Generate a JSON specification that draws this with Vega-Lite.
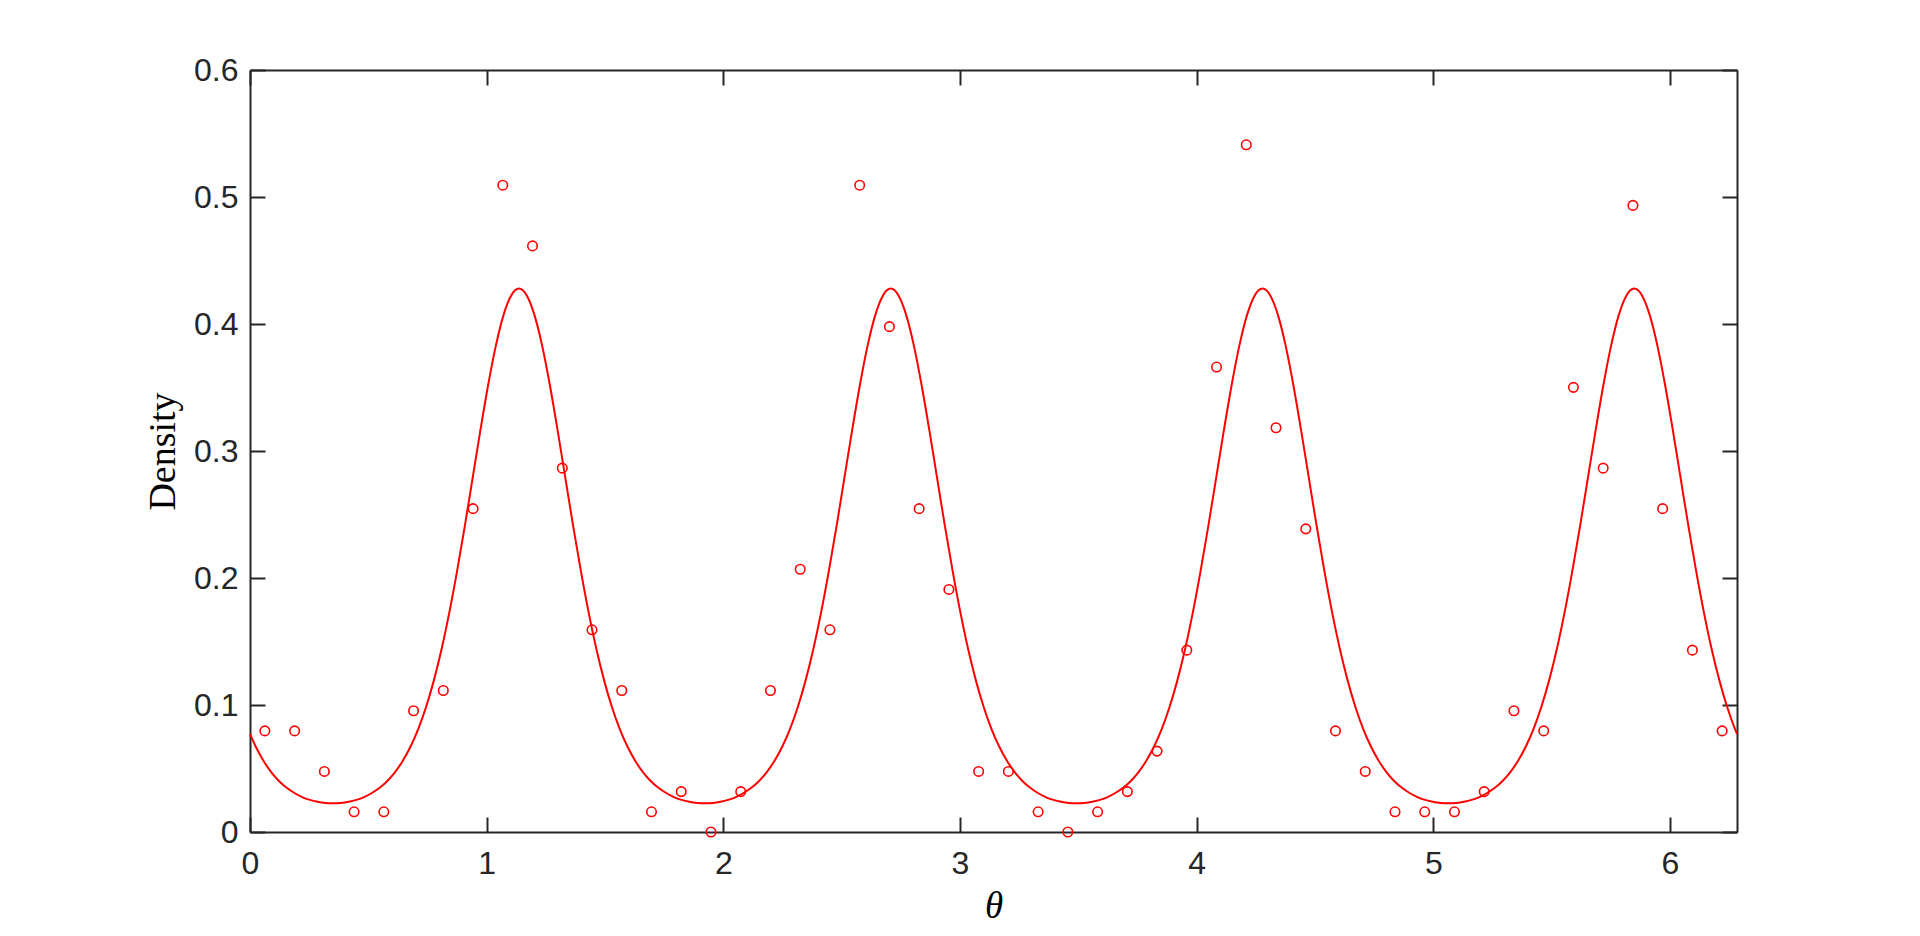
{
"$schema": "https://vega.github.io/schema/vega-lite/v6.json",
"width": 1487, "height": 762,
"autosize": {"type": "none"},
"padding": {"left": 250, "top": 70, "right": 183, "bottom": 104},
"background": "white",
"config": {
 "view": {"stroke": null},
 "axis": {"grid": false, "domainColor": "#262626", "domainWidth": 2, "tickColor": "#262626", "tickWidth": 2, "tickSize": -15, "labelFlush": false,
  "labelColor": "#262626", "labelFont": "Liberation Sans", "labelFontSize": 32, "titleFont": "Liberation Serif", "titleFontWeight": "normal", "titleColor": "#000000"}
},
"datasets": {
"curve": [
{"t":0,"d":0.0772},
{"t":0.0240,"d":0.0673},{"t":0.0567,"d":0.0561},{"t":0.0894,"d":0.0472},{"t":0.1221,"d":0.0402},{"t":0.1549,"d":0.0348},{"t":0.1876,"d":0.0307},{"t":0.2203,"d":0.0275},{"t":0.2530,"d":0.0253},{"t":0.2858,"d":0.0238},{"t":0.3185,"d":0.0229},{"t":0.3512,"d":0.0226},{"t":0.3839,"d":0.0229},{"t":0.4167,"d":0.0238},{"t":0.4494,"d":0.0253},{"t":0.4821,"d":0.0275},{"t":0.5148,"d":0.0307},{"t":0.5476,"d":0.0348},{"t":0.5803,"d":0.0402},{"t":0.6130,"d":0.0472},{"t":0.6457,"d":0.0561},{"t":0.6785,"d":0.0673},{"t":0.7112,"d":0.0812},{"t":0.7439,"d":0.0984},{"t":0.7766,"d":0.1192},{"t":0.8094,"d":0.1439},{"t":0.8421,"d":0.1727},{"t":0.8748,"d":0.2052},{"t":0.9075,"d":0.2407},{"t":0.9403,"d":0.2782},{"t":0.9730,"d":0.3158},{"t":1.0057,"d":0.3514},{"t":1.0384,"d":0.3826},{"t":1.0712,"d":0.4070},{"t":1.1039,"d":0.4225},{"t":1.1366,"d":0.4279},{"t":1.1693,"d":0.4225},{"t":1.2021,"d":0.4070},{"t":1.2348,"d":0.3826},{"t":1.2675,"d":0.3514},{"t":1.3002,"d":0.3158},{"t":1.3329,"d":0.2782},{"t":1.3657,"d":0.2407},{"t":1.3984,"d":0.2052},{"t":1.4311,"d":0.1727},{"t":1.4638,"d":0.1439},{"t":1.4966,"d":0.1192},{"t":1.5293,"d":0.0984},{"t":1.5620,"d":0.0812},
{"t":1.5948,"d":0.0673},{"t":1.6275,"d":0.0561},{"t":1.6602,"d":0.0472},{"t":1.6929,"d":0.0402},{"t":1.7257,"d":0.0348},{"t":1.7584,"d":0.0307},{"t":1.7911,"d":0.0275},{"t":1.8238,"d":0.0253},{"t":1.8566,"d":0.0238},{"t":1.8893,"d":0.0229},{"t":1.9220,"d":0.0226},{"t":1.9547,"d":0.0229},{"t":1.9875,"d":0.0238},{"t":2.0202,"d":0.0253},{"t":2.0529,"d":0.0275},{"t":2.0856,"d":0.0307},{"t":2.1184,"d":0.0348},{"t":2.1511,"d":0.0402},{"t":2.1838,"d":0.0472},{"t":2.2165,"d":0.0561},{"t":2.2493,"d":0.0673},{"t":2.2820,"d":0.0812},{"t":2.3147,"d":0.0984},{"t":2.3474,"d":0.1192},{"t":2.3802,"d":0.1439},{"t":2.4129,"d":0.1727},{"t":2.4456,"d":0.2052},{"t":2.4783,"d":0.2407},{"t":2.5111,"d":0.2782},{"t":2.5438,"d":0.3158},{"t":2.5765,"d":0.3514},{"t":2.6092,"d":0.3826},{"t":2.6420,"d":0.4070},{"t":2.6747,"d":0.4225},{"t":2.7074,"d":0.4279},{"t":2.7401,"d":0.4225},{"t":2.7729,"d":0.4070},{"t":2.8056,"d":0.3826},{"t":2.8383,"d":0.3514},{"t":2.8710,"d":0.3158},{"t":2.9037,"d":0.2782},{"t":2.9365,"d":0.2407},{"t":2.9692,"d":0.2052},{"t":3.0019,"d":0.1727},{"t":3.0346,"d":0.1439},{"t":3.0674,"d":0.1192},{"t":3.1001,"d":0.0984},{"t":3.1328,"d":0.0812},
{"t":3.1656,"d":0.0673},{"t":3.1983,"d":0.0561},{"t":3.2310,"d":0.0472},{"t":3.2637,"d":0.0402},{"t":3.2965,"d":0.0348},{"t":3.3292,"d":0.0307},{"t":3.3619,"d":0.0275},{"t":3.3946,"d":0.0253},{"t":3.4274,"d":0.0238},{"t":3.4601,"d":0.0229},{"t":3.4928,"d":0.0226},{"t":3.5255,"d":0.0229},{"t":3.5583,"d":0.0238},{"t":3.5910,"d":0.0253},{"t":3.6237,"d":0.0275},{"t":3.6564,"d":0.0307},{"t":3.6892,"d":0.0348},{"t":3.7219,"d":0.0402},{"t":3.7546,"d":0.0472},{"t":3.7873,"d":0.0561},{"t":3.8201,"d":0.0673},{"t":3.8528,"d":0.0812},{"t":3.8855,"d":0.0984},{"t":3.9182,"d":0.1192},{"t":3.9510,"d":0.1439},{"t":3.9837,"d":0.1727},{"t":4.0164,"d":0.2052},{"t":4.0491,"d":0.2407},{"t":4.0819,"d":0.2782},{"t":4.1146,"d":0.3158},{"t":4.1473,"d":0.3514},{"t":4.1800,"d":0.3826},{"t":4.2128,"d":0.4070},{"t":4.2455,"d":0.4225},{"t":4.2782,"d":0.4279},{"t":4.3109,"d":0.4225},{"t":4.3437,"d":0.4070},{"t":4.3764,"d":0.3826},{"t":4.4091,"d":0.3514},{"t":4.4418,"d":0.3158},{"t":4.4745,"d":0.2782},{"t":4.5073,"d":0.2407},{"t":4.5400,"d":0.2052},{"t":4.5727,"d":0.1727},{"t":4.6054,"d":0.1439},{"t":4.6382,"d":0.1192},{"t":4.6709,"d":0.0984},{"t":4.7036,"d":0.0812},
{"t":4.7364,"d":0.0673},{"t":4.7691,"d":0.0561},{"t":4.8018,"d":0.0472},{"t":4.8345,"d":0.0402},{"t":4.8673,"d":0.0348},{"t":4.9000,"d":0.0307},{"t":4.9327,"d":0.0275},{"t":4.9654,"d":0.0253},{"t":4.9982,"d":0.0238},{"t":5.0309,"d":0.0229},{"t":5.0636,"d":0.0226},{"t":5.0963,"d":0.0229},{"t":5.1291,"d":0.0238},{"t":5.1618,"d":0.0253},{"t":5.1945,"d":0.0275},{"t":5.2272,"d":0.0307},{"t":5.2600,"d":0.0348},{"t":5.2927,"d":0.0402},{"t":5.3254,"d":0.0472},{"t":5.3581,"d":0.0561},{"t":5.3909,"d":0.0673},{"t":5.4236,"d":0.0812},{"t":5.4563,"d":0.0984},{"t":5.4890,"d":0.1192},{"t":5.5218,"d":0.1439},{"t":5.5545,"d":0.1727},{"t":5.5872,"d":0.2052},{"t":5.6199,"d":0.2407},{"t":5.6527,"d":0.2782},{"t":5.6854,"d":0.3158},{"t":5.7181,"d":0.3514},{"t":5.7508,"d":0.3826},{"t":5.7836,"d":0.4070},{"t":5.8163,"d":0.4225},{"t":5.8490,"d":0.4279},{"t":5.8817,"d":0.4225},{"t":5.9145,"d":0.4070},{"t":5.9472,"d":0.3826},{"t":5.9799,"d":0.3514},{"t":6.0126,"d":0.3158},{"t":6.0453,"d":0.2782},{"t":6.0781,"d":0.2407},{"t":6.1108,"d":0.2052},{"t":6.1435,"d":0.1727},{"t":6.1762,"d":0.1439},{"t":6.2090,"d":0.1192},{"t":6.2417,"d":0.0984},{"t":6.2744,"d":0.0812},
{"t":6.283185,"d":0.0772}
],
"pts": [
{"t":0.0628,"d":0.0796},{"t":0.1885,"d":0.0796},{"t":0.3142,"d":0.0477},{"t":0.4398,"d":0.0159},{"t":0.5655,"d":0.0159},{"t":0.6912,"d":0.0955},{"t":0.8168,"d":0.1114},{"t":0.9425,"d":0.2546},{"t":1.0681,"d":0.5093},{"t":1.1938,"d":0.4615},
{"t":1.3195,"d":0.2865},{"t":1.4451,"d":0.1592},{"t":1.5708,"d":0.1114},{"t":1.6965,"d":0.0159},{"t":1.8221,"d":0.0318},{"t":1.9478,"d":0},{"t":2.0735,"d":0.0318},{"t":2.1991,"d":0.1114},{"t":2.3248,"d":0.2069},{"t":2.4504,"d":0.1592},
{"t":2.5761,"d":0.5093},{"t":2.7018,"d":0.3979},{"t":2.8274,"d":0.2546},{"t":2.9531,"d":0.1910},{"t":3.0788,"d":0.0477},{"t":3.2044,"d":0.0477},{"t":3.3301,"d":0.0159},{"t":3.4558,"d":0},{"t":3.5814,"d":0.0159},{"t":3.7071,"d":0.0318},
{"t":3.8327,"d":0.0637},{"t":3.9584,"d":0.1432},{"t":4.0841,"d":0.3661},{"t":4.2097,"d":0.5411},{"t":4.3354,"d":0.3183},{"t":4.4611,"d":0.2387},{"t":4.5867,"d":0.0796},{"t":4.7124,"d":0.0477},{"t":4.8381,"d":0.0159},{"t":4.9637,"d":0.0159},
{"t":5.0894,"d":0.0159},{"t":5.2150,"d":0.0318},{"t":5.3407,"d":0.0955},{"t":5.4664,"d":0.0796},{"t":5.5920,"d":0.3501},{"t":5.7177,"d":0.2865},{"t":5.8434,"d":0.4934},{"t":5.9690,"d":0.2546},{"t":6.0947,"d":0.1432},{"t":6.2204,"d":0.0796}
]
},
"layer": [
 {"data": {"name": "curve"},
  "mark": {"type": "line", "color": "#FF0000", "strokeWidth": 2, "interpolate": "monotone"},
  "encoding": {
   "x": {"field": "t", "type": "quantitative", "scale": {"domain": [0, 6.283185], "nice": false, "zero": false},
    "axis": {"orient": "bottom", "values": [0,1,2,3,4,5,6], "format": "d", "tickSize": -15, "labelFlush": false, "labelPadding": 31,
     "title": "θ", "titleFontStyle": "italic", "titleFontSize": 37, "titleX": 743.5, "titleY": 85, "titleBaseline": "alphabetic", "titleAlign": "center"}},
   "y": {"field": "d", "type": "quantitative", "scale": {"domain": [0, 0.6], "nice": false},
    "axis": {"orient": "left", "values": [0,0.1,0.2,0.3,0.4,0.5,0.6], "format": ".1~f", "tickSize": -15, "labelPadding": 27,
     "title": "Density", "titleFontSize": 38, "titleX": -76, "titleY": 381, "titleBaseline": "alphabetic", "titleAngle": -90, "titleAlign": "center"}}
  }},
 {"data": {"name": "pts"},
  "mark": {"type": "point", "shape": "circle", "filled": false, "color": "#FF0000", "strokeWidth": 1.6, "size": 90, "opacity": 1},
  "encoding": {
   "x": {"field": "t", "type": "quantitative", "axis": {"orient": "top", "values": [0,1,2,3,4,5,6], "tickSize": -15, "labels": false, "title": null}},
   "y": {"field": "d", "type": "quantitative", "axis": {"orient": "right", "values": [0,0.1,0.2,0.3,0.4,0.5,0.6], "tickSize": -15, "labels": false, "title": null}}
  }}
],
"resolve": {"axis": {"x": "independent", "y": "independent"}}
}
